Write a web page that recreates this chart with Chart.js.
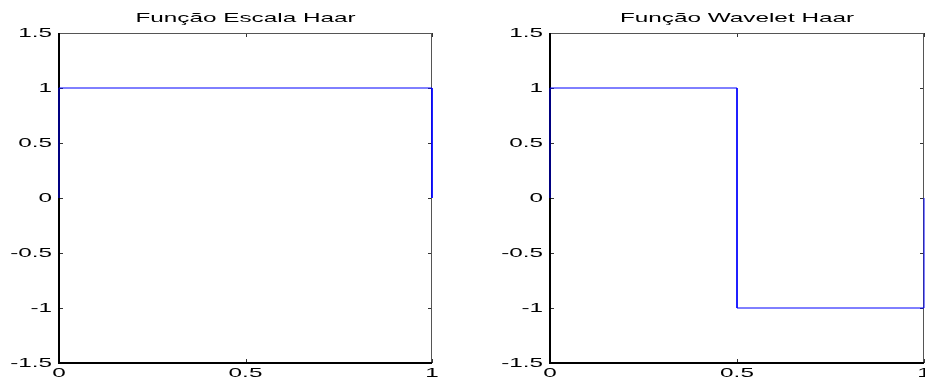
<!DOCTYPE html>
<html>
<head>
<meta charset="utf-8">
<script src="https://cdn.jsdelivr.net/npm/chart.js@4/dist/chart.umd.min.js"></script>
<style>
  body { margin: 0; background: #fff; }
  canvas { position: absolute; top: 0; }
  #c1 { left: 0; }
  #c2 { left: 462px; }
</style>
</head>
<body>
<canvas id="c1" width="462" height="380"></canvas>
<canvas id="c2" width="463" height="380"></canvas>
<script>
// Haar scaling function and Haar wavelet, drawn as step lines
const scaleX = [0, 0, 1, 1];
const scaleY = [0, 1, 1, 0];
const waveX = [0, 0, 0.5, 0.5, 1, 1];
const waveY = [0, 1, 1, -1, -1, 0];
const xTicks = [0, 0.5, 1];
const yTicks = [-1.5, -1, -0.5, 0, 0.5, 1, 1.5];
const titles = ["Função Escala Haar", "Função Wavelet Haar"];

const FONT = '13.5px "Liberation Sans", Arial, sans-serif';
const STRETCH = 1.8;

/* matlab text looks wide, so draw it stretched sideways */
function wideText(ctx, text, x, y, align) {
  ctx.save();
  ctx.font = FONT;
  ctx.textBaseline = 'middle';
  ctx.textAlign = 'left';
  const w = ctx.measureText(text).width * STRETCH;
  let x0 = x;
  if (align === 'center') x0 = x - w / 2;
  if (align === 'right') x0 = x - w;
  ctx.translate(x0, y);
  ctx.scale(STRETCH, 1);
  ctx.fillStyle = '#000';
  ctx.fillText(text, 0, 0);
  ctx.restore();
}

function fmt(v) {
  return String(v);
}

const haarFrame = {
  id: 'haarFrame',
  beforeDatasetsDraw(chart) {
    const { ctx, chartArea: a, scales } = chart;
    ctx.save();
    // inward ticks on all four sides
    ctx.strokeStyle = '#333';
    ctx.lineWidth = 1;
    ctx.beginPath();
    yTicks.forEach(v => {
      const py = Math.round(scales.y.getPixelForValue(v)) + 0.5;
      ctx.moveTo(a.left, py); ctx.lineTo(a.left + 4, py);
      ctx.moveTo(a.right, py); ctx.lineTo(a.right - 4, py);
    });
    xTicks.forEach(v => {
      const px = Math.round(scales.x.getPixelForValue(v)) + 0.5;
      ctx.moveTo(px, a.top); ctx.lineTo(px, a.top + 4);
      ctx.moveTo(px, a.bottom); ctx.lineTo(px, a.bottom - 4);
    });
    ctx.stroke();
    // box: top/right thin grey, left/bottom black
    ctx.strokeStyle = '#555';
    ctx.beginPath();
    ctx.moveTo(a.left, a.top + 0.5); ctx.lineTo(a.right, a.top + 0.5);
    ctx.moveTo(a.right - 0.5, a.top); ctx.lineTo(a.right - 0.5, a.bottom);
    ctx.stroke();
    ctx.strokeStyle = '#000';
    ctx.lineWidth = 2;
    ctx.beginPath();
    ctx.moveTo(a.left, a.top); ctx.lineTo(a.left, a.bottom);
    ctx.moveTo(a.left - 1, a.bottom); ctx.lineTo(a.right, a.bottom);
    ctx.stroke();
    ctx.restore();
  },
  afterDraw(chart) {
    const { ctx, chartArea: a, scales } = chart;
    yTicks.forEach(v => {
      wideText(ctx, fmt(v), a.left - 7, scales.y.getPixelForValue(v), 'right');
    });
    xTicks.forEach(v => {
      wideText(ctx, fmt(v), scales.x.getPixelForValue(v), a.bottom + 10, 'center');
    });
    wideText(ctx, chart.options.plugins.haarFrame.title, (a.left + a.right) / 2, 18.5, 'center');
  }
};

function makeChart(id, xs, ys, title, leftW, rightPad) {
  const pts = xs.map((x, i) => ({ x: x, y: ys[i] }));
  return new Chart(document.getElementById(id), {
    type: 'line',
    data: {
      datasets: [{
        data: pts,
        borderColor: '#0000ff',
        borderWidth: 1,
        pointRadius: 0,
        fill: false,
        tension: 0,
        clip: false
      }]
    },
    options: {
      responsive: false,
      animation: false,
      layout: { padding: { top: 33, right: rightPad, left: 0, bottom: 0 } },
      plugins: {
        legend: { display: false },
        tooltip: { enabled: false },
        haarFrame: { title: title }
      },
      scales: {
        x: {
          type: 'linear', min: 0, max: 1,
          ticks: { display: false, stepSize: 0.5 },
          grid: { display: false, drawTicks: false },
          border: { display: false },
          afterFit: s => { s.height = 17; }
        },
        y: {
          type: 'linear', min: -1.5, max: 1.5,
          ticks: { display: false, stepSize: 0.5 },
          grid: { display: false, drawTicks: false },
          border: { display: false },
          afterFit: s => { s.width = leftW; }
        }
      }
    },
    plugins: [haarFrame]
  });
}

makeChart('c1', scaleX, scaleY, titles[0], 59, 30);
makeChart('c2', waveX, waveY, titles[1], 88, 1);
</script>
</body>
</html>
